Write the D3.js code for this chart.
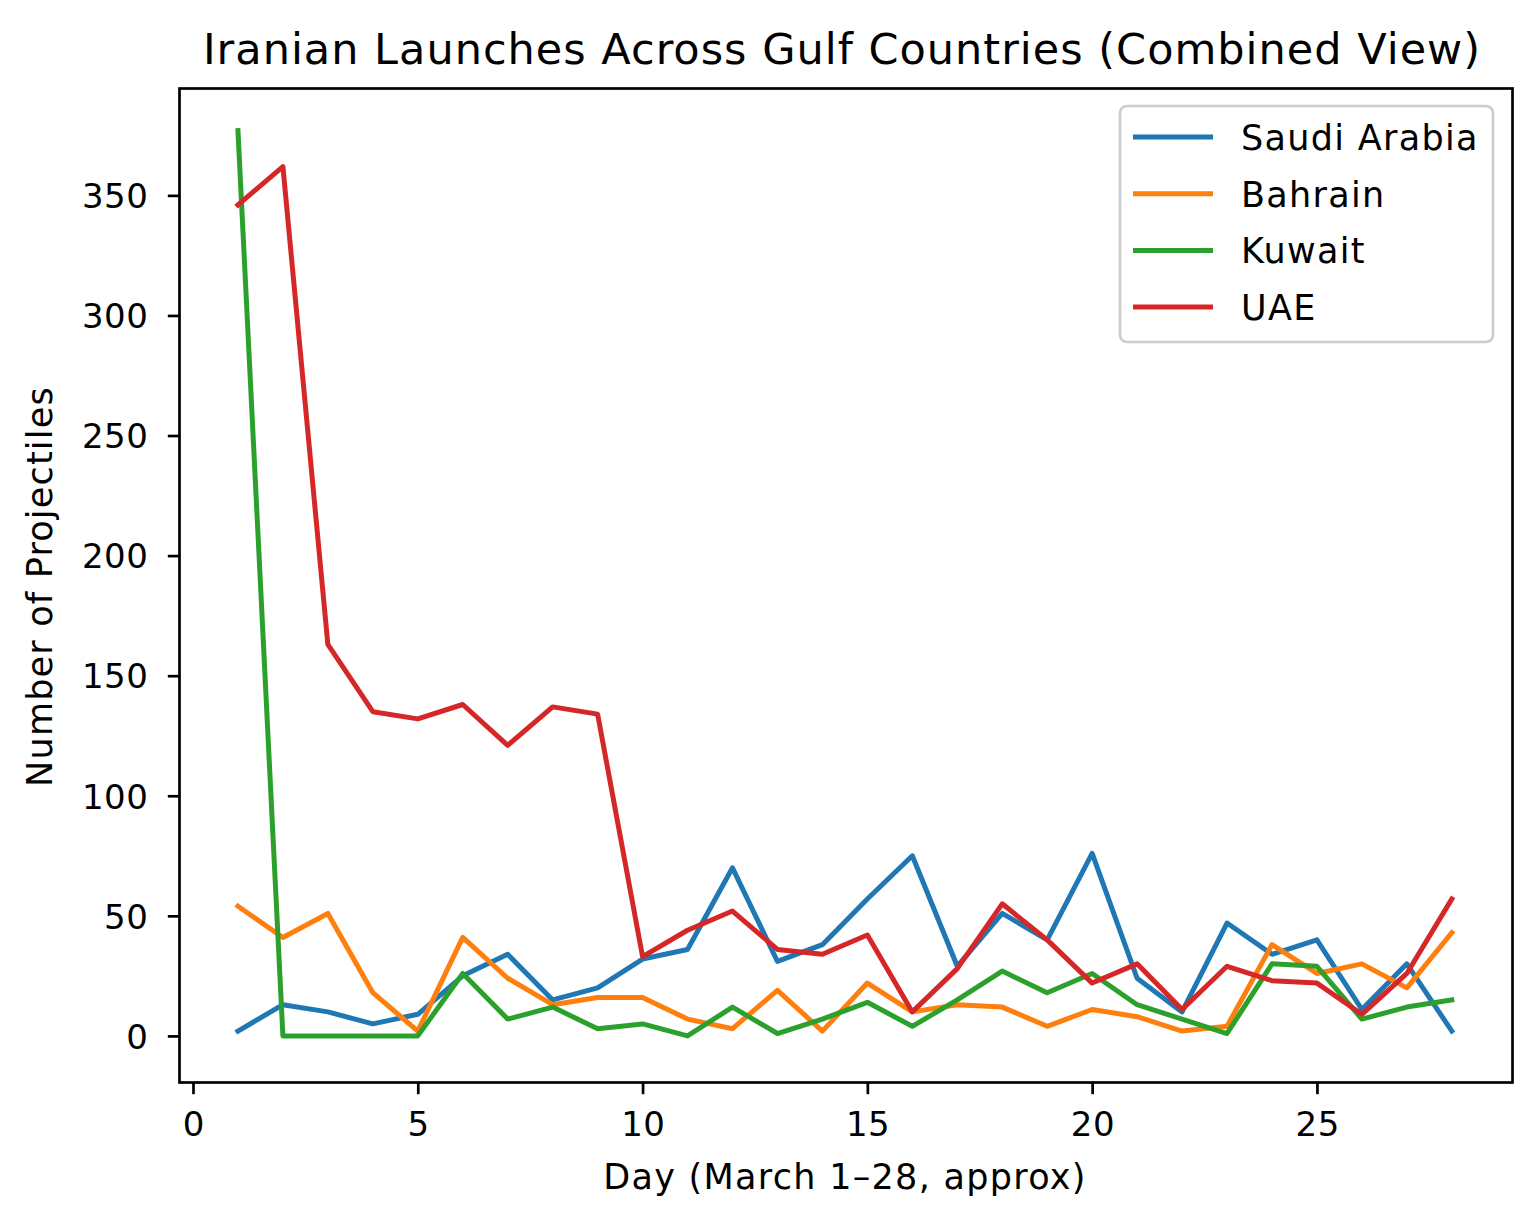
<!DOCTYPE html>
<html>
<head>
<meta charset="utf-8">
<script src="https://cdn.jsdelivr.net/npm/d3@7"></script>
<style>
  html, body { margin: 0; padding: 0; background: #fff; }
  svg { display: block; font-family: "DejaVu Sans", sans-serif; }
</style>
</head>
<body>
<svg id="chart" width="1536" height="1224"></svg>
<script>
const days = [1,2,3,4,5,6,7,8,9,10,11,12,13,14,15,16,17,18,19,20,21,22,23,24,25,26,27,28];
const saudiArabia = [2,13,10,5,9,25,34,15,20,32,36,70,31,38,57,75,29,51,40,76,24,10,47,34,40,11,30,2];
const bahrain     = [54,41,51,18,2,41,24,13,16,16,7,3,19,2,22,10,13,12,4,11,8,2,4,38,26,30,20,43];
const kuwait      = [377,0,0,0,0,26,7,12,3,5,0,12,1,7,14,4,15,27,18,26,13,7,1,30,29,7,12,15];
const uae         = [346,362,163,135,132,138,121,137,134,33,44,52,36,34,42,10,28,55,40,22,30,11,29,23,22,9,26,57];
const seriesNames = ["Saudi Arabia","Bahrain","Kuwait","UAE"];
const seriesColors = ["#1f77b4","#ff7f0e","#2ca02c","#d62728"];
const xTicks = [0,5,10,15,20,25];
const yTicks = [0,50,100,150,200,250,300,350];

const allSeries = [saudiArabia, bahrain, kuwait, uae];

const svg = d3.select("#chart");
const L = 179.5, R = 1512.5, T = 88.5, B = 1082.5;

const x = d3.scaleLinear().domain([-0.3, 29.35]).range([L, R]);
const y = d3.scaleLinear().domain([-19.4, 394.5]).range([B, T]);

const FS = 34;      // tick labels
const FT = 35;      // axis labels + legend
const tickLen = 11.7;
const tickW = 2.7;

// lines
const line = d3.line().x((d, i) => x(days[i])).y(d => y(d));
const plot = svg.append("g");
allSeries.forEach((s, k) => {
  plot.append("path")
    .datum(s)
    .attr("d", line)
    .attr("fill", "none")
    .attr("stroke", seriesColors[k])
    .attr("stroke-width", 5)
    .attr("stroke-linejoin", "round")
    .attr("stroke-linecap", "square");
});

// axes with d3
const xAxis = d3.axisBottom(x).tickValues(xTicks).tickSize(tickLen).tickPadding(11.7).tickSizeOuter(0);
const gx = svg.append("g").attr("transform", `translate(0,${B})`).call(xAxis);
gx.select(".domain").remove();
gx.selectAll(".tick line").attr("stroke", "#000").attr("stroke-width", tickW);
gx.selectAll(".tick text").attr("fill", "#000").attr("font-size", FS)
  .attr("font-family", "DejaVu Sans").attr("dy", "0.88em")
  .attr("letter-spacing", 0.5).attr("dx", 0.25);

const yAxis = d3.axisLeft(y).tickValues(yTicks).tickSize(tickLen).tickPadding(19.5).tickSizeOuter(0);
const gy = svg.append("g").attr("transform", `translate(${L},0)`).call(yAxis);
gy.select(".domain").remove();
gy.selectAll(".tick line").attr("stroke", "#000").attr("stroke-width", tickW);
gy.selectAll(".tick text").attr("fill", "#000").attr("font-size", FS)
  .attr("font-family", "DejaVu Sans").attr("dy", "0.36em")
  .attr("letter-spacing", 0.5);

// frame
svg.append("rect")
  .attr("x", L).attr("y", T).attr("width", R - L).attr("height", B - T)
  .attr("fill", "none").attr("stroke", "#000").attr("stroke-width", tickW);

// title
svg.append("text")
  .attr("x", 842).attr("y", 64)
  .attr("text-anchor", "middle")
  .attr("font-size", 43).attr("fill", "#000")
  .attr("letter-spacing", 1.0)
  .text("Iranian Launches Across Gulf Countries (Combined View)");

// x label
svg.append("text")
  .attr("x", 845).attr("y", 1189)
  .attr("text-anchor", "middle")
  .attr("font-size", FT).attr("fill", "#000")
  .attr("letter-spacing", 1.3)
  .text("Day (March 1–28, approx)");

// y label
svg.append("text")
  .attr("transform", `translate(52,${(T + B) / 2 + 1}) rotate(-90)`)
  .attr("text-anchor", "middle")
  .attr("font-size", FT).attr("fill", "#000")
  .attr("letter-spacing", 1.2)
  .text("Number of Projectiles");

// legend
const lg = svg.append("g");
lg.append("rect")
  .attr("x", 1120).attr("y", 106).attr("width", 373).attr("height", 236)
  .attr("rx", 7).attr("ry", 7)
  .attr("fill", "#fff").attr("fill-opacity", 0.8)
  .attr("stroke", "#cccccc").attr("stroke-width", 2.7);
seriesNames.forEach((name, k) => {
  const ly = 137 + k * 56.7;
  lg.append("line")
    .attr("x1", 1133).attr("x2", 1213).attr("y1", ly).attr("y2", ly)
    .attr("stroke", seriesColors[k]).attr("stroke-width", 5);
  lg.append("text")
    .attr("x", 1241).attr("y", ly + 13)
    .attr("font-size", FT).attr("fill", "#000")
    .attr("letter-spacing", 1.3)
    .text(name);
});
</script>
</body>
</html>
